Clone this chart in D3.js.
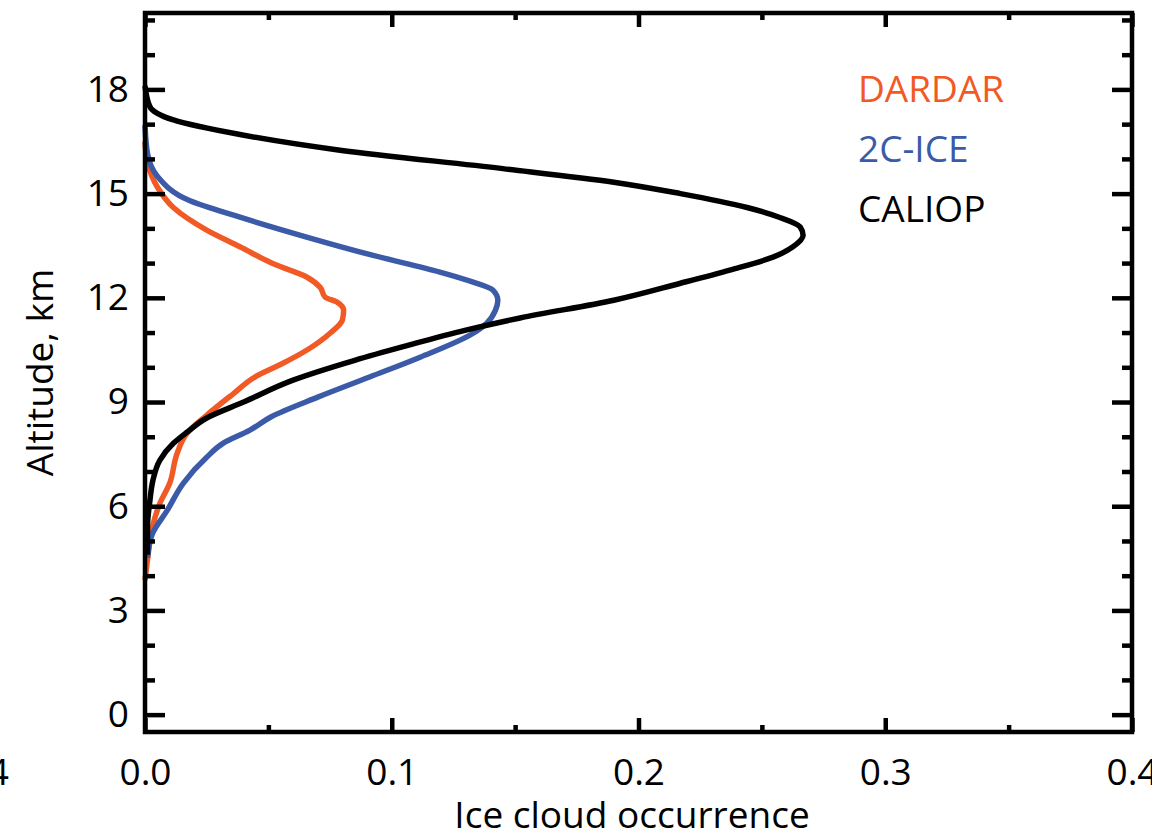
<!DOCTYPE html>
<html>
<head>
<meta charset="utf-8">
<script src="https://d3js.org/d3.v7.min.js"></script>
<style>
  body { margin: 0; background: #fff; }
  svg text { font-family: "Open Sans", sans-serif; }
</style>
</head>
<body>
<div id="chart"></div>
<script>
// profiles: occurrence (fraction) vs altitude (km)
var dardarAlt = [16.5, 15.9, 15.19, 14.6, 13.95, 13.47, 12.98, 12.6, 12.3, 12.02, 11.87, 11.64, 11.36, 10.98, 10.49, 10.1, 9.72, 9.25, 8.62, 8.1, 7.52, 6.66, 6.08, 5.4, 4.45, 3.87];
var dardarOcc = [0, 0.001, 0.005, 0.0115, 0.025, 0.0385, 0.052, 0.0655, 0.071, 0.073, 0.078, 0.0805, 0.080, 0.075, 0.0655, 0.0555, 0.0445, 0.036, 0.025, 0.017, 0.013, 0.010, 0.006, 0.003, 0.001, 0];

var iceAlt = [16.97, 16.16, 15.5, 14.8, 14.32, 13.75, 13.22, 12.74, 12.45, 12.22, 11.93, 11.64, 11.27, 10.98, 10.29, 9.72, 9.14, 8.57, 8.19, 7.81, 7.41, 6.66, 5.88, 5.21, 4.52];
var iceOcc = [0, 0.001, 0.005, 0.018, 0.0385, 0.0655, 0.0925, 0.1195, 0.133, 0.141, 0.143, 0.142, 0.1385, 0.133, 0.1115, 0.091, 0.070, 0.051, 0.0425, 0.0316, 0.025, 0.0155, 0.009, 0.003, 0.001];

var caliopAlt = [18.1, 17.5, 17.12, 16.7, 16.25, 15.72, 15.33, 15.0, 14.6, 14.32, 14.04, 13.8, 13.47, 13.17, 12.8, 12.42, 11.93, 11.42, 11.07, 10.6, 10.2, 9.63, 9.0, 8.54, 8.13, 7.81, 7.32, 6.74, 6.17, 5.4, 4.6];
var caliopOcc = [0, 0.002, 0.0115, 0.0385, 0.079, 0.145, 0.190, 0.217, 0.244, 0.257, 0.2655, 0.2667, 0.2626, 0.2545, 0.237, 0.217, 0.190, 0.152, 0.130, 0.105, 0.085, 0.060, 0.040, 0.025, 0.017, 0.0115, 0.006, 0.0032, 0.002, 0.001, 0.001];

var seriesNames = ['DARDAR', '2C-ICE', 'CALIOP'];
var seriesColors = ['#f15a24', '#3b5ba9', '#000000'];

var xTicks = [0, 0.1, 0.2, 0.3, 0.4];
var xMinor = [0.05, 0.15, 0.25, 0.35];
var yTicks = [0, 3, 6, 9, 12, 15, 18];
var yMinor = [1, 2, 4, 5, 7, 8, 10, 11, 13, 14, 16, 17, 19, 20];

var W = 1152, H = 837;
var margin = {top: 13, right: 20, bottom: 105, left: 145};
var w = W - margin.left - margin.right,
    h = H - margin.top - margin.bottom;

var svg = d3.select('#chart').append('svg')
    .attr('width', W)
    .attr('height', H);

var plot = svg.append('g')
    .attr('transform', 'translate(' + margin.left + ',' + margin.top + ')');

var x = d3.scaleLinear().domain([0, 0.4]).range([0, w]);
var y = d3.scaleLinear().domain([-0.5, 20.2]).range([h, 0]);

var series = [
  {alt: dardarAlt, occ: dardarOcc},
  {alt: iceAlt, occ: iceOcc},
  {alt: caliopAlt, occ: caliopOcc}
];

var line = d3.line()
    .x(d => x(d[0]))
    .y(d => y(d[1]))
    .curve(d3.curveMonotoneY);

plot.selectAll('path.profile')
    .data(series)
    .enter()
    .append('path')
    .attr('class', 'profile')
    .attr('d', d => line(d.occ.map((v, i) => [v, d.alt[i]])))
    .style('fill', 'none')
    .style('stroke', (d, i) => seriesColors[i])
    .style('stroke-width', 5.5)
    .style('stroke-linejoin', 'round');

// axes, ticks pointing inward
function styleAxis(g) {
  g.select('.domain').remove();
  g.selectAll('line').style('stroke', '#000').style('stroke-width', 4.5);
  g.selectAll('text').style('font-size', '37px').style('fill', '#000');
}

plot.append('g')
    .call(d3.axisLeft(y).tickValues(yTicks).tickSize(-20).tickPadding(16).tickFormat(d3.format('d')))
    .call(styleAxis);
plot.append('g')
    .call(d3.axisLeft(y).tickValues(yMinor).tickSize(-10).tickFormat(''))
    .call(styleAxis);
plot.append('g')
    .attr('transform', 'translate(' + w + ',0)')
    .call(d3.axisRight(y).tickValues(yTicks).tickSize(-20).tickFormat(''))
    .call(styleAxis);
plot.append('g')
    .attr('transform', 'translate(' + w + ',0)')
    .call(d3.axisRight(y).tickValues(yMinor).tickSize(-10).tickFormat(''))
    .call(styleAxis);

plot.append('g')
    .attr('transform', 'translate(0,' + h + ')')
    .call(d3.axisBottom(x).tickValues(xTicks).tickSize(-14).tickPadding(27).tickFormat(d3.format('.1f')))
    .call(styleAxis);
plot.append('g')
    .attr('transform', 'translate(0,' + h + ')')
    .call(d3.axisBottom(x).tickValues(xMinor).tickSize(-7).tickFormat(''))
    .call(styleAxis);
plot.append('g')
    .call(d3.axisTop(x).tickValues(xTicks).tickSize(-14).tickFormat(''))
    .call(styleAxis);
plot.append('g')
    .call(d3.axisTop(x).tickValues(xMinor).tickSize(-7).tickFormat(''))
    .call(styleAxis);

// frame
plot.append('rect')
    .attr('width', w)
    .attr('height', h)
    .style('fill', 'none')
    .style('stroke', '#000')
    .style('stroke-width', 4.5);

// titles
svg.append('text')
    .attr('x', 632)
    .attr('y', 828)
    .attr('text-anchor', 'middle')
    .style('font-size', '37px')
    .text('Ice cloud occurrence');

svg.append('text')
    .attr('transform', 'translate(53,' + (margin.top + h / 2) + ')rotate(-90)')
    .attr('text-anchor', 'middle')
    .style('font-size', '37px')
    .text('Altitude, km');

// edge of the neighbouring panel's tick label
svg.append('text')
    .attr('x', 9)
    .attr('y', 785)
    .attr('text-anchor', 'end')
    .style('font-size', '37px')
    .text('0.4');

// legend
svg.selectAll('text.legend')
    .data(seriesNames)
    .enter()
    .append('text')
    .attr('class', 'legend')
    .attr('x', 858)
    .attr('y', (d, i) => 102 + i * 60)
    .style('font-size', '37px')
    .style('fill', (d, i) => seriesColors[i])
    .text(d => d);
</script>
</body>
</html>
